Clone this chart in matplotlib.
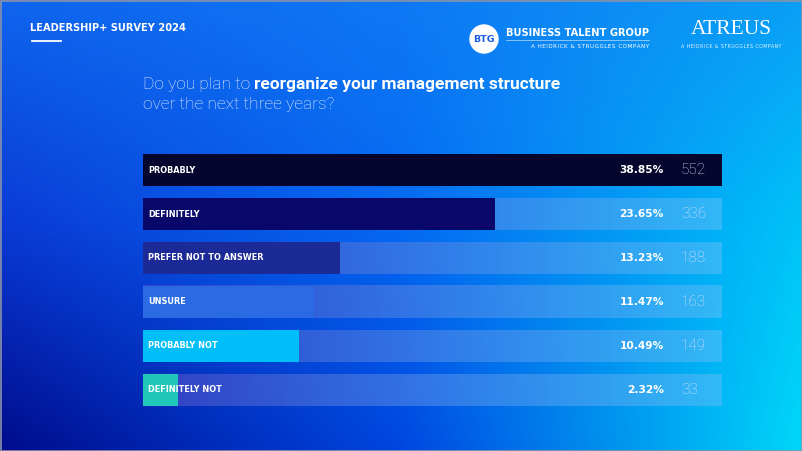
import numpy as np
import matplotlib
matplotlib.use("Agg")
import matplotlib.pyplot as plt
from matplotlib.patches import Rectangle, Circle
from matplotlib.colors import LinearSegmentedColormap

# data
answers = ["PROBABLY", "DEFINITELY", "PREFER NOT TO ANSWER", "UNSURE",
           "PROBABLY NOT", "DEFINITELY NOT"]
shares = [38.85, 23.65, 13.23, 11.47, 10.49, 2.32]
counts = [552, 336, 188, 163, 149, 33]
bar_colors = ["#05052e", "#08086a", "#1c2a98", "#2a6ae2", "#00bff8", "#1fc8b8"]

W, H = 802, 451
fig = plt.figure(figsize=(W / 100, H / 100), dpi=100)

# background gradient
bg = fig.add_axes([0, 0, 1, 1])
bg.set_xlim(0, W)
bg.set_ylim(H, 0)
bg.axis("off")
grid = np.array([
    [[15, 100, 238], [15, 120, 244], [10, 158, 246]],
    [[10, 58, 214], [5, 105, 242], [0, 195, 248]],
    [[0, 12, 140], [0, 70, 225], [0, 215, 250]],
], dtype=float) / 255
ny, nx = 120, 200
yy = np.linspace(0, 2, ny)
xx = np.linspace(0, 2, nx)
rows = np.empty((3, nx, 3))
for r in range(3):
    for c in range(3):
        rows[r, :, c] = np.interp(xx, [0, 1, 2], grid[r, :, c])
img = np.empty((ny, nx, 3))
for j in range(nx):
    for c in range(3):
        img[:, j, c] = np.interp(yy, [0, 1, 2], rows[:, j, c])
bg.imshow(img, extent=(0, W, H, 0), aspect="auto", interpolation="bicubic")
bg.add_patch(Rectangle((0.5, 0.5), W - 1, H - 1, fill=False, ec="#8a93a8", lw=1.2))


def spaced(s, sep="\u200a"):
    return sep.join(s)


# header
bg.text(30, 28, "LEADERSHIP+ SURVEY 2024", color="white", fontsize=7.1,
        fontweight="bold", family="DejaVu Sans", va="center")
bg.plot([32, 61], [41, 41], color="white", lw=1.3)

# logos
bg.add_patch(Circle((484, 39), 14, color="white"))
bg.text(484, 39.5, "BTG", color="#1a5be8", fontsize=6.8, fontweight="bold",
        ha="center", va="center", family="DejaVu Sans")
bg.text(506, 33, "BUSINESS TALENT GROUP", color="white", fontsize=7.1,
        fontweight="bold", va="center", family="DejaVu Sans")
bg.plot([506, 649], [40, 40], color="white", lw=0.5, alpha=0.7)
bg.text(649, 46.5, spaced("A HEIDRICK & STRUGGLES COMPANY"), color="white",
        fontsize=4.1, ha="right", va="center", family="DejaVu Sans")
bg.text(731, 29, "ATREUS", color="white", fontsize=15.5, ha="center", va="center",
        family="Liberation Serif")
bg.text(731, 47, spaced("A HEIDRICK & STRUGGLES COMPANY"), color="white",
        fontsize=3.3, ha="center", va="center", family="DejaVu Sans", alpha=0.9)

# title
t1 = bg.text(143, 84, "Do you plan to ", color="#e8eeff", fontsize=12.5,
             fontweight="light", family="Roboto", va="center")
fig.canvas.draw()
x_bold = t1.get_window_extent().x1
bg.text(x_bold, 84, "reorganize your management structure", color="white",
        fontsize=12.5, fontweight="bold", family="Roboto", va="center",
        transform=matplotlib.transforms.blended_transform_factory(
            matplotlib.transforms.IdentityTransform(), bg.transData))
bg.text(143, 104, "over the next three years?", color="#e8eeff", fontsize=12.5,
        fontweight="light", family="Roboto", va="center")

# bars
ax = fig.add_axes([143 / W, 1 - 412 / H, 579 / W, 264 / H])
ax.patch.set_alpha(0)
ax.axis("off")
vmax = max(shares)
h = 32 / 44
ypos = np.arange(len(answers))

track = np.linspace(0, 1, 100)[None, :]
tcmap = LinearSegmentedColormap.from_list("trk", ["#3c44c4", "#3a7ee8", "#3cbaf8"])
for y in ypos:
    ax.imshow(track, extent=(0, vmax, y + h / 2, y - h / 2), aspect="auto",
              cmap=tcmap, alpha=0.85, zorder=1)
ax.set_xlim(0, vmax)
ax.set_ylim(len(answers) - 0.5, -0.5)
ax.barh(ypos, shares, height=h, color=bar_colors, zorder=2)

for y, lab, s, n in zip(ypos, answers, shares, counts):
    ax.text(vmax * 5 / 579, y, lab, color="white", fontsize=5.9,
            fontweight="bold", va="center", family="DejaVu Sans", zorder=3)
    ax.text(vmax * 521 / 579, y, f"{s:.2f}%", color="white", fontsize=7.7,
            fontweight="bold", va="center", ha="right", family="DejaVu Sans", zorder=3)
    ax.text(vmax * 538 / 579, y, f"{n}", color="#d6e0fa", fontsize=11,
            fontweight="light", va="center", ha="left", family="Roboto", zorder=3)

fig.savefig("out.png", dpi=100)
